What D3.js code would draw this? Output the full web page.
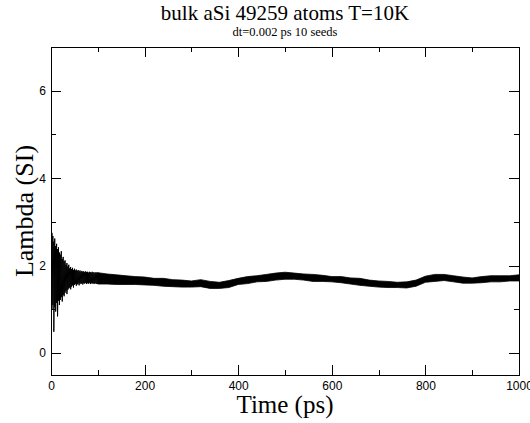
<!DOCTYPE html>
<html>
<head>
<meta charset="utf-8">
<script src="https://cdn.jsdelivr.net/npm/d3@7"></script>
<style>
  body { margin: 0; background: #fff; }
  svg { font-family: "Liberation Serif", "Times New Roman", serif; }
</style>
</head>
<body>
<div id="chart"></div>
<script>
// early part (0-100 ps): strong oscillations, upper / lower extremes every 2 ps
const earlyTime = [0, 2, 4, 6, 8, 10, 12, 14, 16, 18, 20, 22, 24, 26, 28, 30, 32, 34, 36, 38, 40,
  42, 44, 46, 48, 50, 52, 54, 56, 58, 60, 62, 64, 66, 68, 70, 72, 74, 76, 78, 80,
  82, 84, 86, 88, 90, 92, 94, 96, 98, 100];
const earlyHigh = [2.30, 2.75, 2.68, 2.55, 2.62, 2.45, 2.50, 2.38, 2.42, 2.30, 2.25, 2.33, 2.15, 2.20, 2.10, 2.12, 2.02, 2.06, 1.98, 2.02, 1.94,
  1.97, 1.92, 1.95, 1.90, 1.93, 1.89, 1.91, 1.88, 1.90, 1.87, 1.89, 1.86, 1.88, 1.86, 1.87, 1.85, 1.87, 1.85, 1.86, 1.84,
  1.86, 1.85, 1.84, 1.86, 1.84, 1.85, 1.83, 1.85, 1.84, 1.84];
const earlyLow = [1.30, 0.99, 1.10, 0.49, 1.05, 0.95, 1.15, 0.84, 1.20, 1.10, 1.22, 1.28, 1.18, 1.33, 1.30, 1.38, 1.42, 1.35, 1.45, 1.48, 1.50,
  1.46, 1.52, 1.55, 1.50, 1.56, 1.58, 1.54, 1.57, 1.59, 1.55, 1.60, 1.58, 1.60, 1.57, 1.60, 1.59, 1.61, 1.58, 1.60, 1.59,
  1.61, 1.58, 1.60, 1.59, 1.60, 1.58, 1.60, 1.59, 1.58, 1.58];

// rest of the run (100-1000 ps): noise band, upper / lower edge every 20 ps
const bandTime = [100, 120, 140, 160, 180, 200, 220, 240, 260, 280, 300, 320, 340, 360, 380, 400,
  420, 440, 460, 480, 500, 520, 540, 560, 580, 600, 620, 640, 660, 680, 700,
  720, 740, 760, 780, 800, 820, 840, 860, 880, 900, 920, 940, 960, 980, 1000];
const bandHigh = [1.84, 1.81, 1.79, 1.77, 1.75, 1.74, 1.71, 1.71, 1.68, 1.67, 1.65, 1.68, 1.64, 1.62, 1.66, 1.71,
  1.75, 1.77, 1.80, 1.83, 1.85, 1.83, 1.81, 1.80, 1.78, 1.75, 1.75, 1.72, 1.71, 1.67, 1.65,
  1.64, 1.62, 1.63, 1.67, 1.76, 1.80, 1.80, 1.77, 1.74, 1.72, 1.75, 1.77, 1.77, 1.77, 1.79];
const bandLow = [1.58, 1.58, 1.57, 1.57, 1.57, 1.56, 1.55, 1.53, 1.52, 1.51, 1.51, 1.52, 1.48, 1.48, 1.50, 1.57,
  1.59, 1.63, 1.64, 1.67, 1.69, 1.69, 1.67, 1.64, 1.64, 1.63, 1.61, 1.58, 1.55, 1.53, 1.51,
  1.50, 1.50, 1.49, 1.53, 1.62, 1.64, 1.66, 1.63, 1.60, 1.60, 1.61, 1.63, 1.63, 1.65, 1.65];

const xMajor = [0, 200, 400, 600, 800, 1000];
const xMinor = [100, 300, 500, 700, 900];
const yMajor = [0, 2, 4, 6];
const yMinor = [1, 3, 5];

const margin = { top: 47, right: 11, bottom: 48, left: 51 };
const width = 530 - margin.left - margin.right;
const height = 423 - margin.top - margin.bottom;

const svg = d3.select("#chart")
  .append("svg")
  .attr("width", 530)
  .attr("height", 423);

const g = svg.append("g")
  .attr("transform", `translate(${margin.left},${margin.top})`);

const x = d3.scaleLinear().domain([0, 1000]).range([0, width]);
const y = d3.scaleLinear().domain([-0.5, 7]).range([height, 0]);

g.append("clipPath").attr("id", "clip")
  .append("rect").attr("width", width).attr("height", height);

// Data
const band = bandTime.map((t, i) => ({ t, hi: bandHigh[i], lo: bandLow[i] }));
const area = d3.area()
  .x(d => x(d.t))
  .y0(d => y(d.lo))
  .y1(d => y(d.hi));

g.append("path")
  .datum(band)
  .attr("clip-path", "url(#clip)")
  .attr("fill", "#000")
  .attr("stroke", "#000")
  .attr("stroke-width", 0.8)
  .attr("d", area);

// zigzag between the extremes for the early oscillations
const zig = [];
earlyTime.forEach((t, i) => {
  zig.push({ t, v: earlyHigh[i] });
  zig.push({ t, v: earlyLow[i] });
});
const line = d3.line()
  .x(d => x(d.t))
  .y(d => y(d.v));

g.append("path")
  .datum(zig)
  .attr("clip-path", "url(#clip)")
  .attr("fill", "none")
  .attr("stroke", "#000")
  .attr("stroke-width", 1)
  .attr("d", line);

// Axes (ticks inside on all four sides)
const styleAxis = sel => {
  sel.select(".domain").remove();
  sel.selectAll("line").attr("stroke", "#000").attr("shape-rendering", "crispEdges");
  sel.selectAll("text").attr("fill", "#000").style("font-size", "12px");
};

g.append("g")
  .attr("transform", `translate(0,${height})`)
  .call(d3.axisBottom(x).tickValues(xMajor).tickSizeInner(-10).tickSizeOuter(0).tickPadding(6).tickFormat(d3.format("d")))
  .call(styleAxis);
g.append("g")
  .attr("transform", `translate(0,${height})`)
  .call(d3.axisBottom(x).tickValues(xMinor).tickSizeInner(-5).tickSizeOuter(0).tickFormat(""))
  .call(styleAxis);
g.append("g")
  .call(d3.axisTop(x).tickValues(xMajor).tickSizeInner(-10).tickSizeOuter(0).tickFormat(""))
  .call(styleAxis);
g.append("g")
  .call(d3.axisTop(x).tickValues(xMinor).tickSizeInner(-5).tickSizeOuter(0).tickFormat(""))
  .call(styleAxis);

g.append("g")
  .call(d3.axisLeft(y).tickValues(yMajor).tickSizeInner(-10).tickSizeOuter(0).tickPadding(5))
  .call(styleAxis);
g.append("g")
  .call(d3.axisLeft(y).tickValues(yMinor).tickSizeInner(-5).tickSizeOuter(0).tickFormat(""))
  .call(styleAxis);
g.append("g")
  .attr("transform", `translate(${width},0)`)
  .call(d3.axisRight(y).tickValues(yMajor).tickSizeInner(-10).tickSizeOuter(0).tickFormat(""))
  .call(styleAxis);
g.append("g")
  .attr("transform", `translate(${width},0)`)
  .call(d3.axisRight(y).tickValues(yMinor).tickSizeInner(-5).tickSizeOuter(0).tickFormat(""))
  .call(styleAxis);

// frame
g.append("rect")
  .attr("width", width)
  .attr("height", height)
  .attr("fill", "none")
  .attr("stroke", "#000")
  .attr("stroke-width", 1)
  .attr("shape-rendering", "crispEdges");

// Labels
svg.append("text")
  .attr("x", margin.left + width / 2)
  .attr("y", 20)
  .attr("text-anchor", "middle")
  .style("font-size", "21px")
  .text("bulk aSi 49259 atoms T=10K");

svg.append("text")
  .attr("x", margin.left + width / 2)
  .attr("y", 36)
  .attr("text-anchor", "middle")
  .style("font-size", "12.5px")
  .text("dt=0.002 ps 10 seeds");

svg.append("text")
  .attr("x", margin.left + width / 2)
  .attr("y", 413)
  .attr("text-anchor", "middle")
  .style("font-size", "25px")
  .text("Time (ps)");

svg.append("text")
  .attr("transform", `translate(33,${margin.top + height / 2}) rotate(-90)`)
  .attr("text-anchor", "middle")
  .style("font-size", "26px")
  .text("Lambda (SI)");
</script>
</body>
</html>
